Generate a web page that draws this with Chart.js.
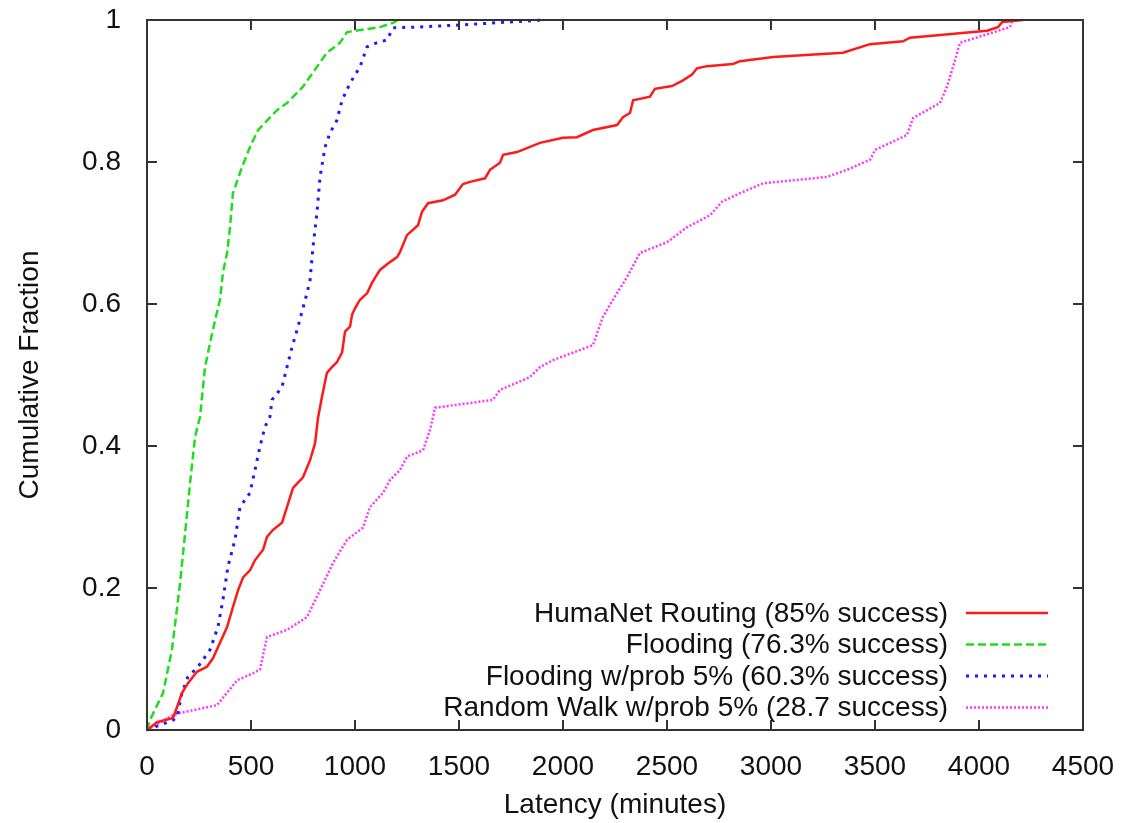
<!DOCTYPE html>
<html>
<head>
<meta charset="utf-8">
<title>Latency CDF</title>
<script src="https://cdn.jsdelivr.net/npm/chart.js@4"></script>
<style>
  html, body { margin: 0; padding: 0; background: #fff; }
  canvas { display: block; }
</style>
</head>
<body>
<canvas id="cdfChart" width="1124" height="823"></canvas>
<script>
// --- data (latency in minutes, cumulative fraction) ---
const humanetX = [0, 48, 125, 144, 168, 197, 240, 288, 317, 351, 385, 413, 438, 462, 495, 519, 558, 577, 606, 649, 673, 702, 750, 784, 808, 822, 841, 865, 889, 913, 938, 952, 976, 986, 1000, 1024, 1058, 1082, 1120, 1168, 1202, 1216, 1250, 1303, 1322, 1351, 1423, 1481, 1519, 1553, 1625, 1649, 1697, 1712, 1779, 1889, 2000, 2067, 2144, 2260, 2288, 2322, 2337, 2418, 2442, 2524, 2577, 2620, 2644, 2692, 2817, 2851, 3010, 3346, 3476, 3635, 3668, 4038, 4091, 4111, 4212];
const humanetY = [0, 0.011, 0.017, 0.032, 0.052, 0.066, 0.082, 0.089, 0.101, 0.123, 0.145, 0.173, 0.197, 0.215, 0.225, 0.239, 0.254, 0.272, 0.282, 0.292, 0.314, 0.341, 0.356, 0.380, 0.404, 0.439, 0.469, 0.503, 0.511, 0.518, 0.532, 0.561, 0.568, 0.585, 0.594, 0.606, 0.615, 0.630, 0.648, 0.659, 0.666, 0.673, 0.697, 0.711, 0.730, 0.742, 0.746, 0.754, 0.769, 0.772, 0.777, 0.789, 0.799, 0.810, 0.814, 0.827, 0.834, 0.835, 0.845, 0.852, 0.863, 0.869, 0.887, 0.892, 0.903, 0.907, 0.915, 0.923, 0.932, 0.935, 0.938, 0.942, 0.948, 0.954, 0.966, 0.970, 0.975, 0.985, 0.990, 0.997, 1.0];

const floodX = [0, 14, 77, 120, 159, 183, 207, 231, 255, 279, 303, 327, 351, 365, 385, 399, 413, 457, 495, 534, 625, 673, 750, 817, 865, 928, 962, 1120, 1183, 1207];
const floodY = [0, 0.014, 0.052, 0.113, 0.207, 0.277, 0.348, 0.413, 0.441, 0.511, 0.545, 0.577, 0.606, 0.644, 0.672, 0.708, 0.756, 0.793, 0.821, 0.845, 0.873, 0.883, 0.906, 0.934, 0.954, 0.968, 0.983, 0.990, 0.996, 1.0];

const probFloodX = [0, 125, 144, 168, 197, 245, 303, 341, 365, 389, 423, 447, 495, 519, 543, 567, 591, 601, 649, 673, 697, 721, 745, 769, 784, 798, 817, 832, 856, 880, 913, 938, 976, 1024, 1058, 1106, 1154, 1183, 1298, 1505, 1904];
const probFloodY = [0, 0.014, 0.018, 0.052, 0.075, 0.089, 0.113, 0.145, 0.183, 0.230, 0.268, 0.314, 0.334, 0.366, 0.399, 0.427, 0.441, 0.465, 0.483, 0.511, 0.539, 0.563, 0.589, 0.615, 0.634, 0.680, 0.728, 0.779, 0.821, 0.841, 0.859, 0.887, 0.911, 0.934, 0.962, 0.968, 0.972, 0.989, 0.990, 0.993, 1.0];

const walkX = [0, 125, 159, 337, 433, 510, 543, 577, 673, 769, 832, 894, 962, 1038, 1072, 1135, 1168, 1216, 1250, 1327, 1361, 1385, 1490, 1663, 1697, 1841, 1889, 1952, 2144, 2192, 2240, 2308, 2370, 2500, 2596, 2707, 2764, 2851, 2962, 3269, 3365, 3476, 3500, 3654, 3683, 3812, 3846, 3875, 3909, 4149, 4159];
const walkY = [0, 0.021, 0.024, 0.035, 0.070, 0.080, 0.085, 0.131, 0.141, 0.159, 0.197, 0.235, 0.268, 0.285, 0.314, 0.334, 0.352, 0.366, 0.385, 0.394, 0.423, 0.454, 0.458, 0.465, 0.479, 0.497, 0.511, 0.521, 0.542, 0.582, 0.606, 0.638, 0.672, 0.687, 0.708, 0.725, 0.744, 0.756, 0.770, 0.779, 0.789, 0.803, 0.817, 0.838, 0.862, 0.883, 0.906, 0.934, 0.968, 0.990, 0.997];

const seriesLabels = [
  'HumaNet Routing (85% success)',
  'Flooding (76.3% success)',
  'Flooding w/prob 5% (60.3% success)',
  'Random Walk w/prob 5% (28.7 success)'
];

const xTicks = [0, 500, 1000, 1500, 2000, 2500, 3000, 3500, 4000, 4500];
const yTicks = [0, 0.2, 0.4, 0.6, 0.8, 1];

const FONT = 'Liberation Sans, Arial, Helvetica, sans-serif';
const FONT_SIZE = 28;

const toPoints = (xs, ys) => xs.map((x, i) => ({ x, y: ys[i] }));

// frame, inward ticks on all four sides, and the legend inside the plot
const gnuplotFrame = {
  id: 'gnuplotFrame',
  afterDraw(chart) {
    const { ctx, chartArea: a, scales } = chart;
    ctx.save();
    ctx.strokeStyle = '#333';
    ctx.lineWidth = 2;
    ctx.strokeRect(a.left, a.top, a.right - a.left, a.bottom - a.top);

    const tick = 10;
    ctx.beginPath();
    xTicks.forEach(v => {
      const px = Math.round(scales.x.getPixelForValue(v));
      ctx.moveTo(px, a.bottom); ctx.lineTo(px, a.bottom - tick);
      ctx.moveTo(px, a.top);    ctx.lineTo(px, a.top + tick);
    });
    yTicks.forEach(v => {
      const py = Math.round(scales.y.getPixelForValue(v));
      ctx.moveTo(a.left, py);  ctx.lineTo(a.left + tick, py);
      ctx.moveTo(a.right, py); ctx.lineTo(a.right - tick, py);
    });
    ctx.stroke();

    // legend
    ctx.font = FONT_SIZE + 'px ' + FONT;
    ctx.textAlign = 'right';
    ctx.textBaseline = 'middle';
    ctx.fillStyle = '#111';
    chart.data.datasets.forEach((ds, i) => {
      const y = 613 + i * 31.5;
      ctx.fillText(ds.label, 948, y + 1);
      ctx.beginPath();
      ctx.strokeStyle = ds.borderColor;
      ctx.lineWidth = ds.borderWidth;
      ctx.setLineDash(ds.borderDash || []);
      ctx.moveTo(966, y);
      ctx.lineTo(1048, y);
      ctx.stroke();
    });
    ctx.restore();
  }
};

const ctx = document.getElementById('cdfChart').getContext('2d');

new Chart(ctx, {
  type: 'line',
  data: {
    datasets: [
      {
        label: seriesLabels[0],
        data: toPoints(humanetX, humanetY),
        borderColor: '#ff1a1a',
        borderWidth: 2.5
      },
      {
        label: seriesLabels[1],
        data: toPoints(floodX, floodY),
        borderColor: '#1fdc1f',
        borderWidth: 2.5,
        borderDash: [8, 4]
      },
      {
        label: seriesLabels[2],
        data: toPoints(probFloodX, probFloodY),
        borderColor: '#1a1aff',
        borderWidth: 3,
        borderDash: [3, 6]
      },
      {
        label: seriesLabels[3],
        data: toPoints(walkX, walkY),
        borderColor: '#ff33ff',
        borderWidth: 2.5,
        borderDash: [2, 2]
      }
    ]
  },
  options: {
    responsive: false,
    animation: false,
    clip: false,
    layout: { padding: { top: 20, right: 41, left: 0, bottom: 0 } },
    elements: {
      point: { radius: 0 },
      line: { tension: 0, fill: false }
    },
    plugins: {
      legend: { display: false },
      tooltip: { enabled: false }
    },
    scales: {
      x: {
        type: 'linear',
        min: 0,
        max: 4500,
        afterBuildTicks: s => { s.ticks = xTicks.map(v => ({ value: v })); },
        afterFit: s => { s.height = 93; s.paddingLeft = 0; s.paddingRight = 0; },
        grid: { display: false },
        border: { display: false },
        ticks: {
          color: '#111',
          font: { family: FONT, size: FONT_SIZE },
          padding: 12,
          maxRotation: 0,
          autoSkip: false,
          callback: v => String(v)
        },
        title: {
          display: true,
          text: 'Latency (minutes)',
          color: '#111',
          font: { family: FONT, size: FONT_SIZE },
          padding: { top: 0, bottom: 1 }
        }
      },
      y: {
        type: 'linear',
        min: 0,
        max: 1,
        afterBuildTicks: s => { s.ticks = yTicks.map(v => ({ value: v })); },
        afterFit: s => { s.width = 147; s.paddingTop = 0; s.paddingBottom = 0; },
        grid: { display: false },
        border: { display: false },
        ticks: {
          color: '#111',
          font: { family: FONT, size: FONT_SIZE },
          padding: 18,
          autoSkip: false,
          callback: v => String(+v.toFixed(1))
        },
        title: {
          display: true,
          text: 'Cumulative Fraction',
          color: '#111',
          font: { family: FONT, size: FONT_SIZE },
          padding: { top: 13, bottom: 0 }
        }
      }
    }
  },
  plugins: [gnuplotFrame]
});
</script>
</body>
</html>
